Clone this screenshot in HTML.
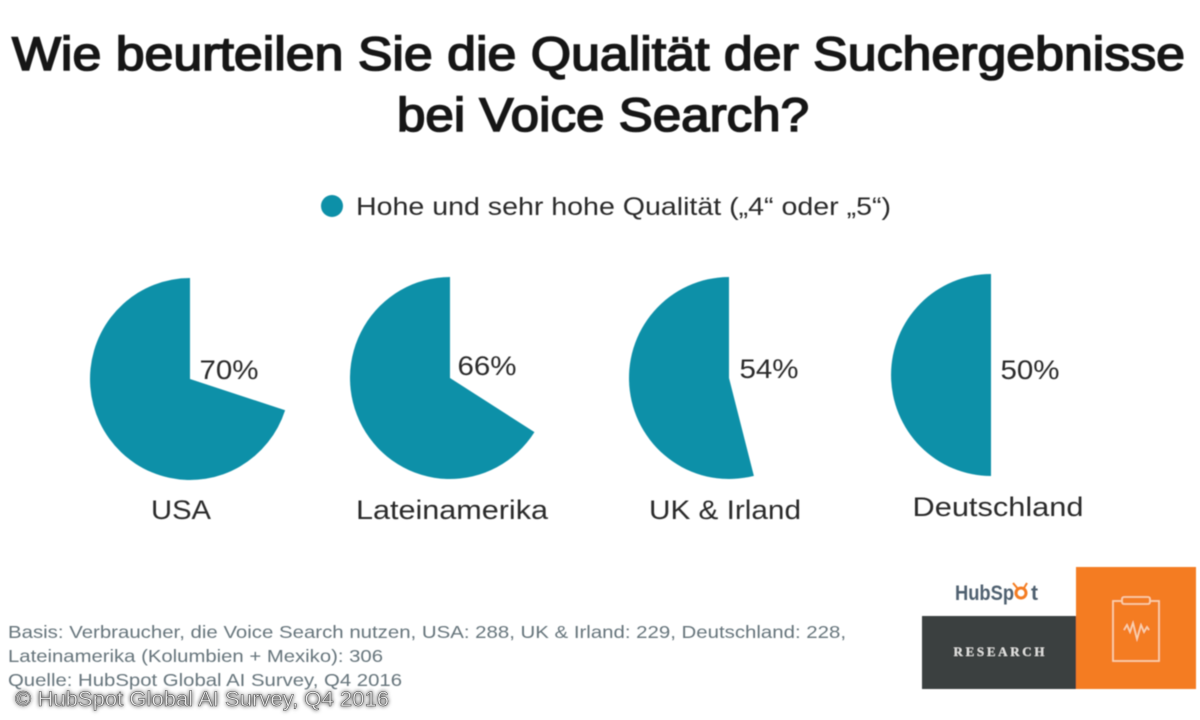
<!DOCTYPE html>
<html lang="de">
<head>
<meta charset="utf-8">
<title>Wie beurteilen Sie die Qualität der Suchergebnisse bei Voice Search?</title>
<style>
html,body{margin:0;padding:0;background:#fff;width:1200px;height:720px;overflow:hidden}
svg{display:block}
text{font-family:"Liberation Sans",sans-serif}
</style>
</head>
<body>
<svg id="chart" width="1200" height="720" viewBox="0 0 1200 720" xmlns="http://www.w3.org/2000/svg">
<defs>
<filter id="soft" x="-5%" y="-5%" width="110%" height="110%"><feGaussianBlur stdDeviation="0.45"/></filter>
<filter id="shadow" x="-5%" y="-40%" width="110%" height="180%"><feGaussianBlur stdDeviation="2.2"/></filter>
</defs>
<rect width="1200" height="720" fill="#ffffff"/>
<g filter="url(#soft)">
<text x="12" y="70" font-size="47" fill="#141414" stroke="#141414" stroke-width="1.6" textLength="1173" lengthAdjust="spacingAndGlyphs">Wie beurteilen Sie die Qualität der Suchergebnisse</text>
<text x="397" y="131" font-size="47" fill="#141414" stroke="#141414" stroke-width="1.6" textLength="412" lengthAdjust="spacingAndGlyphs">bei Voice Search?</text>
<g>
<circle cx="332" cy="206" r="11" fill="#0c90a8"/>
<text x="356" y="215" font-size="25" fill="#2a2a2a" textLength="535" lengthAdjust="spacingAndGlyphs">Hohe und sehr hohe Qualität („4“ oder „5“)</text>
</g>
<g id="pies"></g>
<g font-size="17.5" fill="#66757c">
<text x="8" y="638" textLength="838" lengthAdjust="spacingAndGlyphs">Basis: Verbraucher, die Voice Search nutzen, USA: 288, UK &amp; Irland: 229, Deutschland: 228,</text>
<text x="8" y="662" textLength="375" lengthAdjust="spacingAndGlyphs">Lateinamerika (Kolumbien + Mexiko): 306</text>
<text x="8" y="686" textLength="394" lengthAdjust="spacingAndGlyphs">Quelle: HubSpot Global AI Survey, Q4 2016</text>
</g>
<g>
<rect x="922" y="616" width="154" height="73" fill="#3b3f40"/>
<rect x="1076" y="567" width="120" height="122" fill="#f47b20"/>
<text x="999" y="656" font-size="13" font-weight="700" fill="#e4e4e2" text-anchor="middle" textLength="91" lengthAdjust="spacing" style='font-family:"Liberation Serif",serif'>RESEARCH</text>
<text x="955" y="600" font-size="21" font-weight="700" fill="#4f6170" textLength="59" lengthAdjust="spacingAndGlyphs">HubSp</text>
<text x="1031" y="600" font-size="21" font-weight="700" fill="#4f6170">t</text>
<circle cx="1021" cy="593" r="5" fill="none" stroke="#f47b20" stroke-width="3"/>
<path d="M1013 583l5 6M1027 583l-3 5" stroke="#f47b20" stroke-width="2" fill="none"/>
<g fill="none" stroke="#f9d3b0" stroke-width="1.6">
<rect x="1113" y="601" width="46" height="60"/>
<rect x="1122" y="597" width="28" height="7" rx="2" fill="#f47b20"/>
<path d="M1124 630l3-5 3 7 3-9 4 16 4-14 3 7 3-5 2 3"/>
</g>
</g>
</g>
<g>
<text x="15" y="706" font-size="21" fill="#000" filter="url(#shadow)" textLength="374" lengthAdjust="spacingAndGlyphs">© HubSpot Global AI Survey, Q4 2016</text>
<text x="15" y="706" font-size="21" fill="#e8e8e8" stroke="#555" stroke-width="0.5" textLength="374" lengthAdjust="spacingAndGlyphs">© HubSpot Global AI Survey, Q4 2016</text>
</g>
</svg>
<script>
const categories = ["USA", "Lateinamerika", "UK & Irland", "Deutschland"];
const shares = [70, 66, 54, 50];
const valueLabels = ["70%", "66%", "54%", "50%"];

const PIE_LAYOUT = [
  {cx: 190, cy: 379, vx: 229, vy: 379, lx: 181, ly: 519},
  {cx: 450, cy: 378, vx: 487, vy: 375, lx: 452, ly: 519},
  {cx: 729, cy: 378, vx: 769, vy: 378, lx: 725, ly: 519},
  {cx: 991, cy: 375, vx: 1030, vy: 379, lx: 998, ly: 516}
];
const RADIUS_X = 100;
const RADIUS_Y = 101;
const LABEL_WIDTHS = [60, 192, 152, 171];
const NS = "http://www.w3.org/2000/svg";
const root = document.getElementById("pies");

function angleFor(value) {
  return value / 100 * 2 * Math.PI;
}
function polar(cx, cy, a) {
  return [cx + RADIUS_X * Math.sin(a), cy - RADIUS_Y * Math.cos(a)];
}
function addText(str, x, y, size, w) {
  const t = document.createElementNS(NS, "text");
  t.textContent = str;
  t.setAttribute("x", x);
  t.setAttribute("y", y);
  t.setAttribute("font-size", size);
  t.setAttribute("fill", "#2a2a2a");
  t.setAttribute("text-anchor", "middle");
  if (w) {
    t.setAttribute("textLength", w);
    t.setAttribute("lengthAdjust", "spacingAndGlyphs");
  }
  root.appendChild(t);
  return t;
}

categories.forEach(function (cat, i) {
  const p = PIE_LAYOUT[i];
  const a = angleFor(shares[i]);
  const start = polar(p.cx, p.cy, -a);
  const large = shares[i] > 50 ? 1 : 0;
  const slice = document.createElementNS(NS, "path");
  slice.setAttribute("d",
    "M" + p.cx + " " + p.cy +
    "L" + start[0] + " " + start[1] +
    "A" + RADIUS_X + " " + RADIUS_Y + " 0 " + large + " 1 " + p.cx + " " + (p.cy - RADIUS_Y) + "Z");
  slice.setAttribute("fill", "#0c90a8");
  
  
  root.appendChild(slice);

  const v = addText(valueLabels[i], p.vx, p.vy, 27, 59);
  
  

  const c = addText(cat, p.lx, p.ly, 27, LABEL_WIDTHS[i]);
  
  
});
</script>
</body>
</html>
